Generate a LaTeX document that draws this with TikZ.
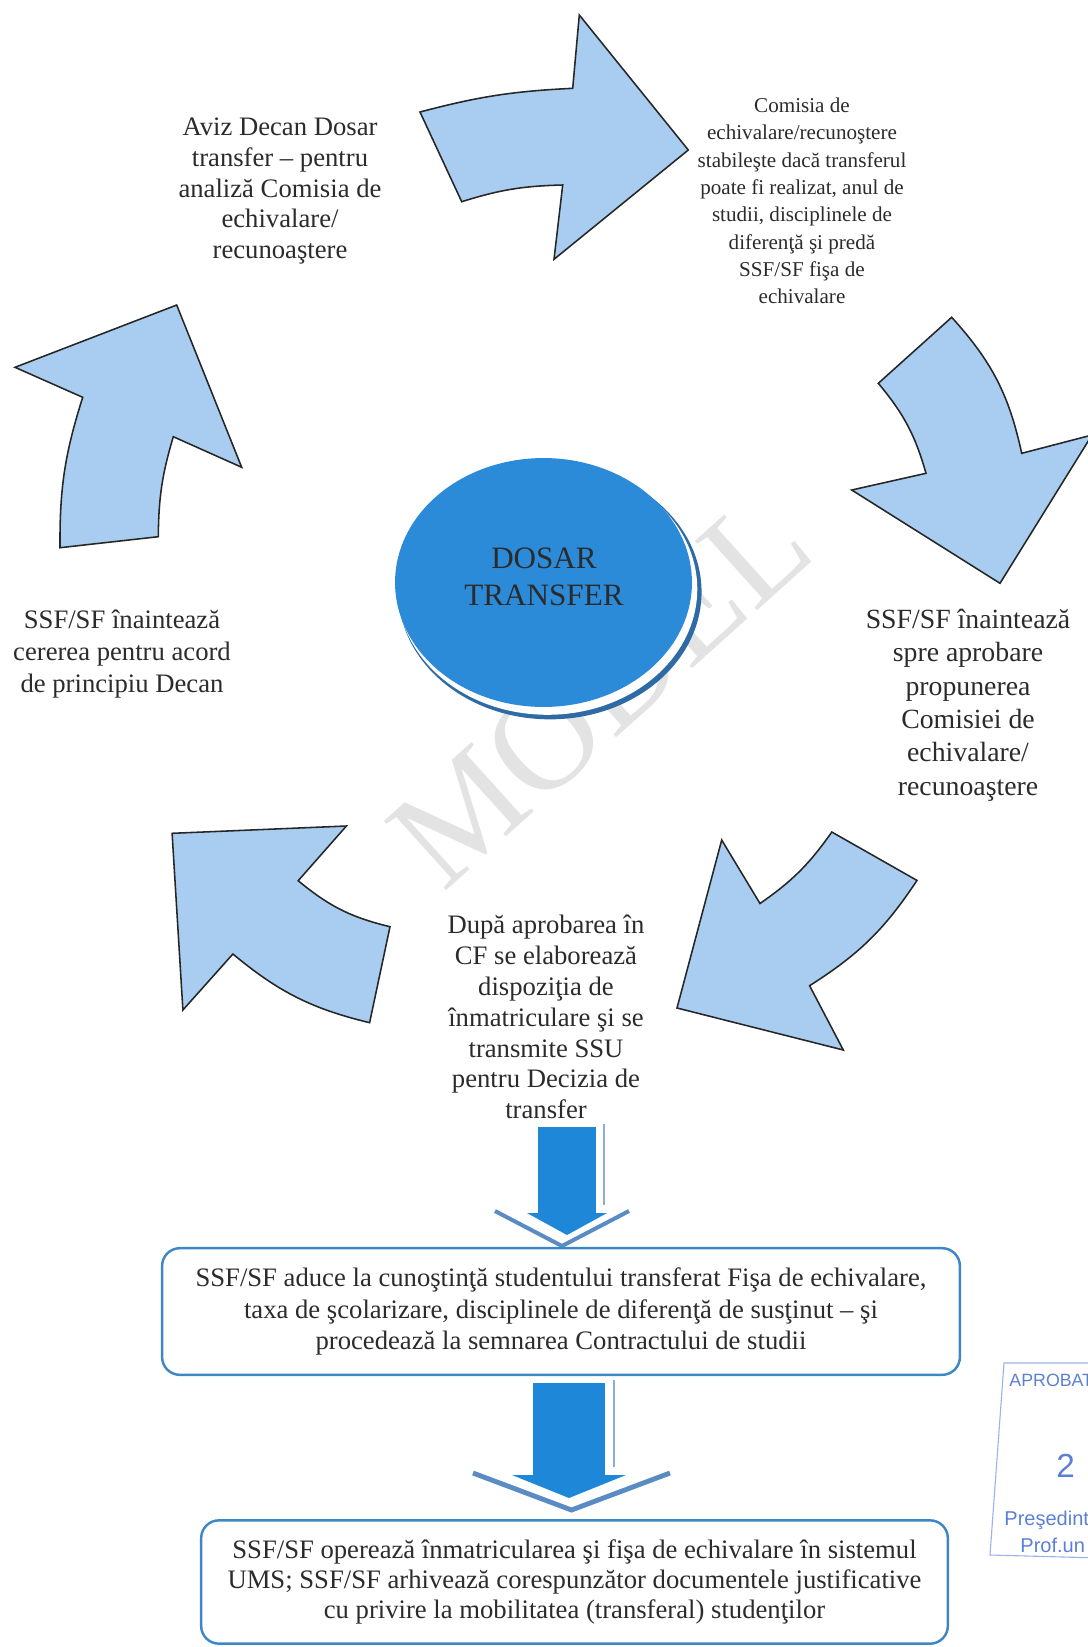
\documentclass[tikz,border=0pt]{standalone}
\usepackage{fontspec}
\setmainfont{Liberation Serif}
\setsansfont{Liberation Sans}
\definecolor{arrowBlue}{HTML}{A8CDF0}
\definecolor{discBlue}{HTML}{2B8BD9}
\definecolor{rimBlue}{HTML}{2E6AA6}
\definecolor{stepBlue}{HTML}{1F87D8}
\definecolor{chevBlue}{HTML}{5A8BC3}
\definecolor{boxBlue}{HTML}{3D87C7}
\definecolor{stampBlue}{HTML}{5C7FD6}
\definecolor{txtGray}{HTML}{2B2B2B}

\tikzset{
  curvarrow/.style={draw=black!85, line width=0.7pt, fill=arrowBlue, line join=miter},
  lbl/.style={align=center, text=txtGray, inner sep=0pt},
  stepbox/.style={draw=boxBlue, line width=1.1pt, rounded corners=8pt, align=center,
    text=txtGray, inner sep=0pt},
  stamptxt/.style={anchor=west, text=stampBlue, inner sep=0pt},
}

\begin{document}
\begin{tikzpicture}[x=0.45pt, y=-0.45pt]
  \useasboundingbox (0,0) rectangle (1088,1647);
  \clip (0,0) rectangle (1088,1647);

  % watermark
  \node[rotate=42, text=black!11, font=\fontsize{64}{64}\selectfont] (model) at (600,690) {MODEL};

  % central disc
  \fill[rimBlue] (550,592) ellipse [x radius=68.2pt, y radius=57.3pt];
  \fill[white] (547.5,589) ellipse [x radius=67.4pt, y radius=56.6pt];
  \fill[discBlue] (543.5,582.5) ellipse [x radius=66.8pt, y radius=56pt];
  \node[lbl, font=\fontsize{14}{16.6}\selectfont] (dosar) at (544,577) {DOSAR\\ TRANSFER};

  % the curved arrows of the cycle
  \draw[curvarrow] (420,112) to[bend left=6] (572.7,88.3) -- (579.3,15) -- (688.3,150)
    -- (554,259.3) -- (562.7,185) to[bend right=8] (461.7,201.7) -- cycle;
  \draw[curvarrow] (878.3,383.3) -- (951.7,317.3) to[bend left=15] (1021.7,453.3)
    -- (1092,435) -- (1000,583.3) -- (851.7,490) -- (926,473.3) to[bend right=12] (878.3,383.3) -- cycle;
  \draw[curvarrow] (831.8,832) -- (917,880.4) to[bend left=12] (809.6,985.7) -- (843.3,1050)
    -- (677,1008) -- (721.7,840) -- (760,903.5) to[bend right=10] (831.8,832) -- cycle;
  \draw[curvarrow] (172.1,833.3) -- (346.4,826) -- (298.2,880.7) to[bend right=13] (390,926.7)
    -- (369.6,1022.7) to[bend left=13] (232.9,954) -- (182.9,1010) -- cycle;
  \draw[curvarrow] (60,547.7) to[bend left=9] (82.7,397.3) -- (15,367.3) -- (176.7,305)
    -- (241.7,467.3) -- (173.3,436.7) to[bend right=8] (158.3,536.7) -- cycle;

  \node[lbl, font=\fontsize{12}{13.8}\selectfont] (aviz) at (280,191)
    {Aviz Decan Dosar\\ transfer – pentru\\ analiză Comisia de\\ echivalare/\\ recunoaştere};
  \node[lbl, font=\fontsize{9.5}{12.3}\selectfont] (comisia) at (802,201)
    {Comisia de\\ echivalare/recunoştere\\ stabileşte dacă transferul\\ poate fi realizat, anul de\\
     studii, disciplinele de\\ diferenţă şi predă\\ SSF/SF fişa de\\ echivalare};
  \node[lbl, font=\fontsize{12.5}{15}\selectfont] (inaint) at (968,705)
    {SSF/SF înaintează\\ spre aprobare\\ propunerea\\ Comisiei de\\ echivalare/\\ recunoaştere};
  \node[lbl, font=\fontsize{12}{13.9}\selectfont] (dupa) at (546,1017)
    {După aprobarea în\\ CF se elaborează\\ dispoziţia de\\ înmatriculare şi se\\ transmite SSU\\
     pentru Decizia de\\ transfer};
  \node[lbl, font=\fontsize{12}{14.5}\selectfont] (cerere) at (122,654)
    {SSF/SF înaintează\\ cererea pentru acord\\ de principiu Decan};

  % block arrows down: rect centre, half width, top, bottom, head half, head depth,
  % chevron centre, chevron half, chevron drop, side line x, chevron width
  \foreach \cx/\hw/\yt/\yb/\th/\td/\ccx/\ch/\cd/\lx/\lw in
    {567/29/1127/1213/40/22/562/67/33/604/1.8, 569/36/1383/1475/57/23/571.5/98.5/35/613.5/2.2} {
    \draw[chevBlue, line width=\lw pt] ({\ccx-\ch},{\yb-2}) -- (\ccx,{\yb+\cd}) -- ({\ccx+\ch},{\yb-2});
    \fill[stepBlue] ({\cx-\hw},\yt) rectangle ({\cx+\hw},\yb);
    \fill[stepBlue] ({\cx-\th},\yb) -- ({\cx+\th},\yb) -- (\cx,{\yb+\td}) -- cycle;
    \draw[chevBlue!70, line width=0.9pt] (\lx,{\yt-3}) -- (\lx,{\yb-8});
  }

  \node[stepbox, minimum width=359pt, minimum height=57pt, font=\fontsize{12}{14.3}\selectfont]
    (fisa) at (561,1311.5)
    {SSF/SF aduce la cunoştinţă studentului transferat Fişa de echivalare,\\
     taxa de şcolarizare, disciplinele de diferenţă de susţinut – şi\\
     procedează la semnarea Contractului de studii};
  \node[stepbox, minimum width=336pt, minimum height=55.5pt, font=\fontsize{12}{13.5}\selectfont]
    (ums) at (574.5,1582)
    {SSF/SF operează înmatricularea şi fişa de echivalare în sistemul\\
     UMS; SSF/SF arhivează corespunzător documentele justificative\\
     cu privire la mobilitatea (transferal) studenţilor};

  % stamp, cut by the page edge
  \draw[stampBlue!60, line width=0.5pt] (1100,1363) -- (1004,1363) -- (990,1555) -- (1100,1558);
  \node[stamptxt, font=\sffamily\fontsize{8}{8}\selectfont] (aprobat) at (1009,1380) {APROBAT};
  \node[stamptxt, font=\sffamily\fontsize{15}{15}\selectfont] (zi) at (1056,1466) {2};
  \node[stamptxt, font=\sffamily\fontsize{9}{9}\selectfont] (presed) at (1004,1520) {Preşedint};
  \node[stamptxt, font=\sffamily\fontsize{9}{9}\selectfont] (prof) at (1020,1545) {Prof.un};
\end{tikzpicture}
\end{document}
